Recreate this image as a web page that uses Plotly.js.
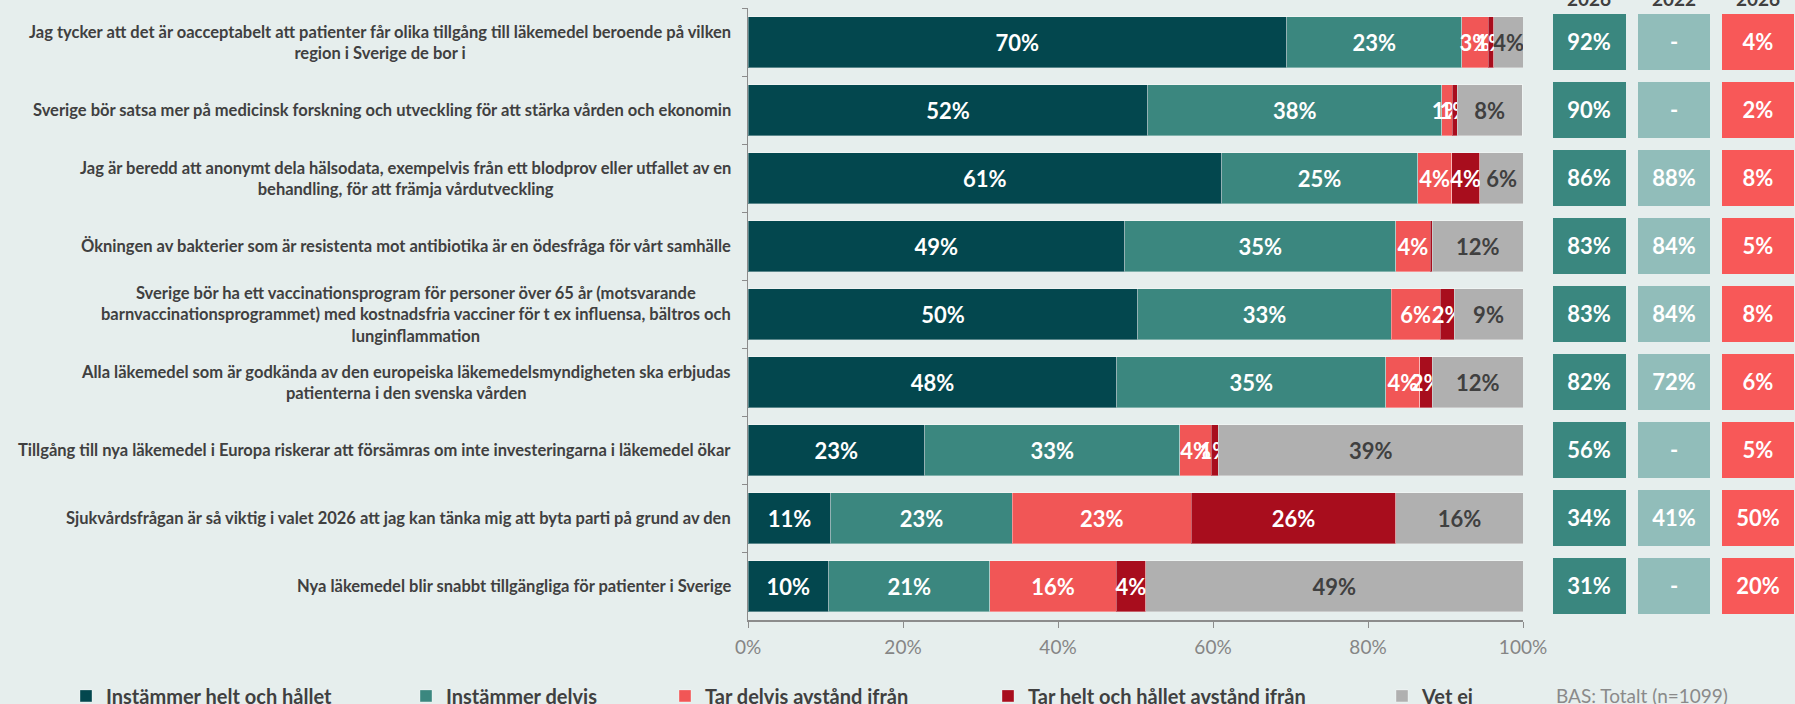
<!DOCTYPE html>
<html>
<head>
<meta charset="utf-8">
<script src="https://cdn.plot.ly/plotly-3.0.1.min.js"></script>
<style>
  html, body { margin: 0; padding: 0; background: #e6eeed; }
  #chart { width: 1795px; height: 704px; }
</style>
</head>
<body>
<div id="chart"></div>
<script>
// statements (top to bottom)
var statements = [
  'Jag tycker att det är oacceptabelt att patienter får olika tillgång till läkemedel beroende på vilken<br>region i Sverige de bor i',
  'Sverige bör satsa mer på medicinsk forskning och utveckling för att stärka vården och ekonomin',
  'Jag är beredd att anonymt dela hälsodata, exempelvis från ett blodprov eller utfallet av en<br>behandling, för att främja vårdutveckling',
  'Ökningen av bakterier som är resistenta mot antibiotika är en ödesfråga för vårt samhälle',
  'Sverige bör ha ett vaccinationsprogram för personer över 65 år (motsvarande<br>barnvaccinationsprogrammet) med kostnadsfria vacciner för t ex influensa, bältros och<br>lunginflammation',
  'Alla läkemedel som är godkända av den europeiska läkemedelsmyndigheten ska erbjudas<br>patienterna i den svenska vården',
  'Tillgång till nya läkemedel i Europa riskerar att försämras om inte investeringarna i läkemedel ökar',
  'Sjukvårdsfrågan är så viktig i valet 2026 att jag kan tänka mig att byta parti på grund av den',
  'Nya läkemedel blir snabbt tillgängliga för patienter i Sverige'
];

// answer shares (%)
var helt      = [69.5, 51.6, 61.1, 48.6, 50.3, 47.6, 22.8, 10.7, 10.4];
var delvis    = [22.6, 37.9, 25.3, 35.0, 32.7, 34.7, 32.9, 23.4, 20.8];
var tarDelvis = [3.4, 1.4, 4.4, 4.4, 6.3, 4.4, 4.1, 23.1, 16.3];
var tarHelt   = [0.7, 0.6, 3.6, 0.3, 1.8, 1.6, 0.9, 26.4, 3.8];
var vetEj     = [3.9, 8.4, 5.7, 11.7, 8.9, 11.7, 39.3, 16.4, 48.7];

var seriesNames = ['Instämmer helt och hållet', 'Instämmer delvis', 'Tar delvis avstånd ifrån',
                   'Tar helt och hållet avstånd ifrån', 'Vet ej'];

// x axis ticks
var xTicks = [0, 20, 40, 60, 80, 100];
var xTickLabels = ['0%', '20%', '40%', '60%', '80%', '100%'];

// side table: total agree 2026, total agree 2022, total disagree 2026
var tableHeaders = ['2026', '2022', '2026'];
var agree2026    = ['92%', '90%', '86%', '83%', '83%', '82%', '56%', '34%', '31%'];
var agree2022    = ['-', '-', '88%', '84%', '84%', '72%', '-', '41%', '-'];
var disagree2026 = ['4%', '2%', '8%', '5%', '8%', '6%', '5%', '50%', '20%'];

var FONT = 'Lato, "Open Sans", sans-serif';
var W = 1795;

function labels(vals) {
  return vals.map(function (v) { return v >= 0.5 ? Math.round(v) + '%' : ''; });
}

var colors = ['#03474e', '#3b877f', '#f15656', '#a80d1d', '#b0b0b0'];
var textColors = ['#ffffff', '#ffffff', '#ffffff', '#ffffff', '#404040'];
var allSeries = [helt, delvis, tarDelvis, tarHelt, vetEj];
// each legend entry gets its own legend box so the spacing follows the original
var legendIds = ['legend', 'legend2', 'legend3', 'legend4', 'legend5'];
var legendTextX = [103, 443, 702, 1025, 1419];
var bottomRowY = -0.124;

var traces = allSeries.map(function (vals, i) {
  return {
    type: 'bar',
    orientation: 'h',
    name: seriesNames[i],
    legend: legendIds[i],
    y: statements,
    x: vals,
    text: labels(vals),
    textposition: 'inside',
    insidetextanchor: 'middle',
    textangle: 0,
    constraintext: 'none',
    textfont: { family: FONT, size: 22, color: textColors[i], weight: 'bold' },
    marker: { color: colors[i], line: { color: 'rgba(255,255,255,0.35)', width: 1 } },
    hoverinfo: 'skip'
  };
});

// boxes on the right
var z = [], txt = [];
for (var i = 0; i < statements.length; i++) {
  z.push([0, 1, 2]);
  txt.push([agree2026[i], agree2022[i], disagree2026[i]]);
}
traces.push({
  type: 'heatmap',
  xaxis: 'x2',
  yaxis: 'y',
  x: [0, 1, 2],
  y: statements,
  z: z,
  text: txt,
  texttemplate: '%{text}',
  textfont: { family: FONT, size: 22, color: '#ffffff', weight: 'bold' },
  colorscale: [[0, '#3a877f'], [0.5, '#91bdba'], [1, '#f85858']],
  zmin: 0, zmax: 2,
  showscale: false,
  xgap: 12, ygap: 12,
  showlegend: false,
  hoverinfo: 'skip'
});

var annotations = statements.map(function (s) {
  return {
    xref: 'paper', yref: 'y', x: 733 / W, y: s,
    xanchor: 'right', yanchor: 'middle', align: 'center',
    text: s, showarrow: false,
    font: { family: FONT, size: 16.5, color: '#404040', weight: 'bold' }
  };
});
tableHeaders.forEach(function (h, i) {
  annotations.push({
    xref: 'x2', yref: 'paper', x: i, y: 1.016, yanchor: 'middle',
    text: h, showarrow: false,
    font: { family: FONT, size: 19, color: '#404040', weight: 'bold' }
  });
});
annotations.push({
  xref: 'paper', yref: 'paper', x: 1554 / W, y: bottomRowY, xanchor: 'left', yanchor: 'middle',
  text: 'BAS: Totalt (n=1099)', showarrow: false,
  font: { family: FONT, size: 19, color: '#8a8a8a' }
});

var layout = {
  width: 1795,
  height: 704,
  margin: { l: 0, r: 0, t: 8, b: 84, autoexpand: false },
  paper_bgcolor: '#e6eeed',
  plot_bgcolor: 'rgba(0,0,0,0)',
  barmode: 'stack',
  bargap: 0.25,
  font: { family: FONT, color: '#404040' },
  xaxis: {
    domain: [748 / W, 1523 / W],
    range: [0, 100],
    tickmode: 'array',
    tickvals: xTicks,
    ticktext: xTickLabels,
    showgrid: false,
    zeroline: false,
    showline: true,
    linecolor: '#8c8c8c',
    linewidth: 1.5,
    ticks: 'outside',
    ticklen: 6,
    tickcolor: '#8c8c8c',
    ticklabelstandoff: 4,
    tickfont: { family: FONT, size: 19, color: '#858585' },
    fixedrange: true
  },
  xaxis2: {
    domain: [1547 / W, 1],
    range: [-0.5, 2.435],
    anchor: 'y',
    visible: false,
    fixedrange: true
  },
  yaxis: {
    autorange: 'reversed',
    showticklabels: false,
    showgrid: false,
    showline: true,
    linecolor: '#8c8c8c',
    linewidth: 1.5,
    ticks: 'outside',
    tickson: 'boundaries',
    ticklen: 5,
    tickcolor: '#8c8c8c',
    fixedrange: true
  },
  annotations: annotations,
  showlegend: true
};

legendIds.forEach(function (id, i) {
  layout[id] = {
    orientation: 'h',
    x: (legendTextX[i] - 37) / W,
    xanchor: 'left',
    y: bottomRowY,
    yanchor: 'middle',
    font: { family: FONT, size: 20, color: '#404040', weight: 'bold' },
    bgcolor: 'rgba(0,0,0,0)'
  };
});

Plotly.newPlot('chart', traces, layout, { displayModeBar: false, staticPlot: true });
</script>
</body>
</html>
